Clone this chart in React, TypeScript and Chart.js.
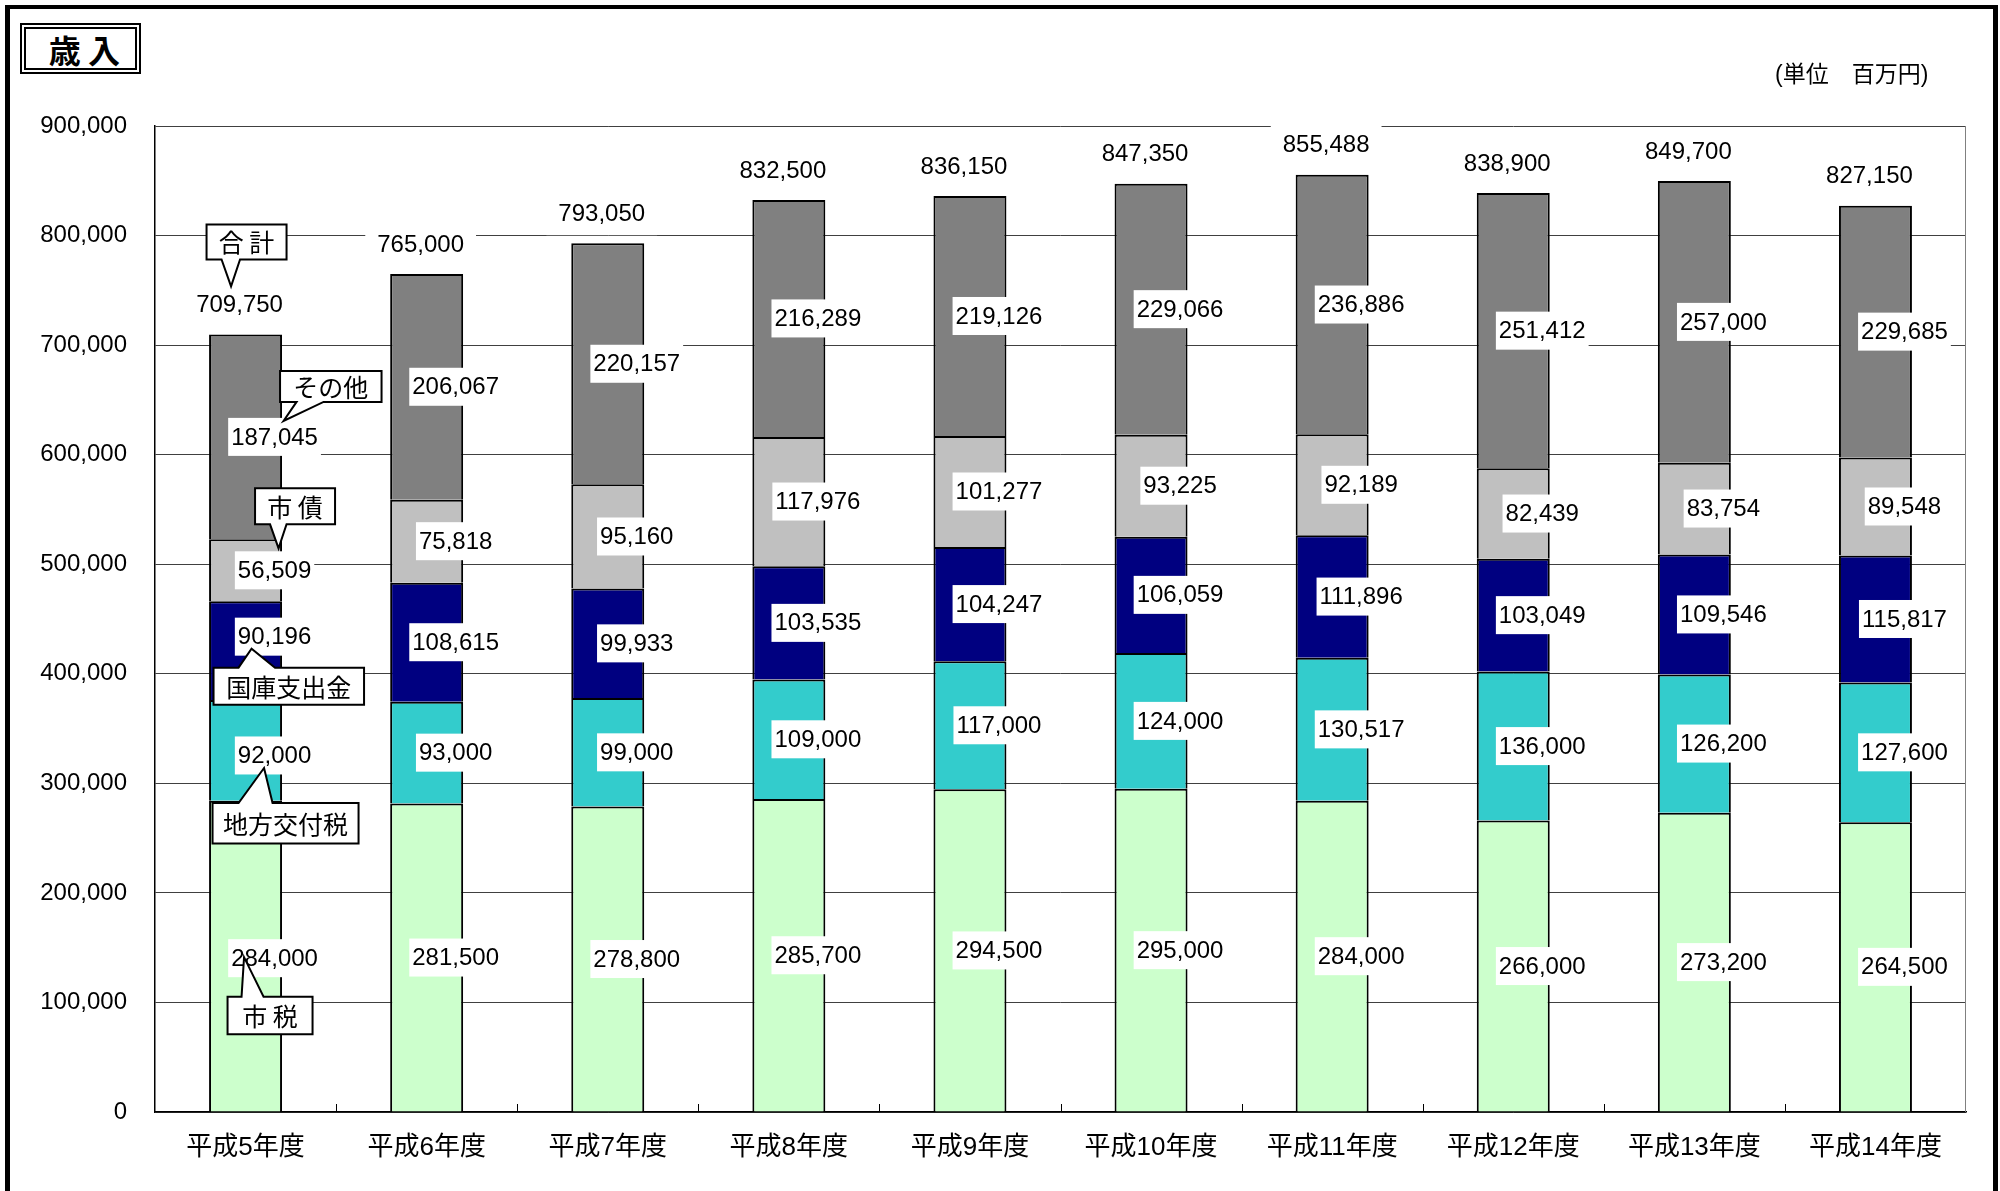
import React, { useEffect, useRef } from 'react';
import { Chart, registerables } from 'chart.js';

Chart.register(...registerables);

const categories = ['平成5年度', '平成6年度', '平成7年度', '平成8年度', '平成9年度', '平成10年度', '平成11年度', '平成12年度', '平成13年度', '平成14年度'];
const seriesNames = ['市税', '地方交付税', '国庫支出金', '市債', 'その他'];
const shizei = [284000, 281500, 278800, 285700, 294500, 295000, 284000, 266000, 273200, 264500];
const chihoKofuzei = [92000, 93000, 99000, 109000, 117000, 124000, 130517, 136000, 126200, 127600];
const kokkoShishutsukin = [90196, 108615, 99933, 103535, 104247, 106059, 111896, 103049, 109546, 115817];
const shisai = [56509, 75818, 95160, 117976, 101277, 93225, 92189, 82439, 83754, 89548];
const sonota = [187045, 206067, 220157, 216289, 219126, 229066, 236886, 251412, 257000, 229685];
const totals = [709750, 765000, 793050, 832500, 836150, 847350, 855488, 838900, 849700, 827150];
const yMin = 0;
const yMax = 900000;
const yStep = 100000;

const seriesValues = [shizei, chihoKofuzei, kokkoShishutsukin, shisai, sonota];
const seriesColors = ['#CCFFCC', '#33CCCC', '#000080', '#C0C0C0', '#808080'];

const FONT_NUM = "'Liberation Sans', Arial, sans-serif";
const FONT_JP = "'Noto Sans CJK JP', sans-serif";
const FONT_MIX = "'Liberation Sans', 'Noto Sans CJK JP', sans-serif";

const fmt = (v: number) => v.toLocaleString('en-US');

// label nudges (px) for the first year's labels, which carry callouts
const labelNudge: Record<string, number> = { '0-0': 2, '1-0': 5, '2-0': -14 };

type Callout = {
  text: string;
  target: number | 'total';
  box: [number, number, number, number];
  side: 'top' | 'bottom';
  base: [number, number];
  tip: [number, number];
};

const callouts: Callout[] = [
  { text: '合 計', target: 'total', box: [-39, 41, -110, -75], side: 'bottom', base: [-24, -5.5], tip: [-14.5, -48] },
  { text: 'その他', target: 4, box: [34.5, 136, -66, -35], side: 'bottom', base: [51, 78], tip: [38, -16] },
  { text: '市 債', target: 3, box: [9.5, 89.5, -82, -46], side: 'bottom', base: [24.5, 41], tip: [33, -22] },
  { text: '国庫支出金', target: 2, box: [-32, 118.5, 31, 68], side: 'top', base: [-7, 29.5], tip: [6, 12] },
  { text: '地方交付税', target: 1, box: [-33, 113, 47.5, 88], side: 'top', base: [-7, 27], tip: [18.5, 12.5] },
  { text: '市 税', target: 0, box: [-18, 67, 38.5, 76], side: 'top', base: [-4, 18], tip: [-1.5, -1] },
];

const labelPlugin = {
  id: 'customLabels',
  afterDatasetsDraw(chart: any) {
    const ctx: CanvasRenderingContext2D = chart.ctx;
    const area = chart.chartArea;
    const xs = chart.scales.x;
    ctx.save();
    // right border of plot
    ctx.strokeStyle = '#808080';
    ctx.lineWidth = 1;
    ctx.beginPath();
    ctx.moveTo(Math.round(area.right) - 0.5, area.top);
    ctx.lineTo(Math.round(area.right) - 0.5, area.bottom);
    ctx.stroke();
    // inside tick marks between categories
    ctx.strokeStyle = '#000';
    const n = categories.length;
    for (let i = 1; i < n; i++) {
      const x = Math.round((xs.getPixelForTick(i - 1) + xs.getPixelForTick(i)) / 2) + 0.5;
      ctx.beginPath();
      ctx.moveTo(x, area.bottom);
      ctx.lineTo(x, area.bottom - 8);
      ctx.stroke();
    }

    // segment labels
    ctx.font = `24px ${FONT_NUM}`;
    ctx.textAlign = 'center';
    ctx.textBaseline = 'middle';
    const labelCenters: Record<string, { x: number; y: number }> = {};
    chart.data.datasets.forEach((ds: any, di: number) => {
      const meta = chart.getDatasetMeta(di);
      meta.data.forEach((el: any, j: number) => {
        const p = el.getProps(['x', 'y', 'base'], true);
        const text = fmt(ds.data[j]);
        const x = p.x + 29;
        const y = (p.y + p.base) / 2 + (labelNudge[`${di}-${j}`] || 0);
        labelCenters[`${di}-${j}`] = { x: p.x, y };
        const w = ctx.measureText(text).width;
        ctx.fillStyle = '#fff';
        ctx.fillRect(x - w / 2 - 3, y - 19, w + 6, 38);
        ctx.fillStyle = '#000';
        ctx.fillText(text, x, y + 1);
      });
    });

    // totals
    const topMeta = chart.getDatasetMeta(chart.data.datasets.length - 1);
    const barTops: number[] = [];
    topMeta.data.forEach((el: any, j: number) => {
      const p = el.getProps(['x', 'y'], true);
      barTops.push(p.y);
      const text = fmt(totals[j]);
      const x = p.x - 6;
      const y = chart.scales.y.getPixelForValue(totals[j]) - 30;
      const w = ctx.measureText(text).width;
      ctx.fillStyle = '#fff';
      ctx.fillRect(x - w / 2 - 12, y - 22, w + 24, 44);
      ctx.fillStyle = '#000';
      ctx.fillText(text, x, y + 1);
    });

    // callouts on the first year
    const firstEl = chart.getDatasetMeta(0).data[0].getProps(['x'], true);
    const cx = firstEl.x;
    ctx.lineWidth = 2;
    ctx.lineJoin = 'miter';
    callouts.forEach((c) => {
      const cy = c.target === 'total' ? barTops[0] : labelCenters[`${c.target}-0`].y;
      const [x0, x1, y0, y1] = [cx + c.box[0], cx + c.box[1], cy + c.box[2], cy + c.box[3]];
      const [b0, b1] = [cx + c.base[0], cx + c.base[1]];
      const [tx, ty] = [cx + c.tip[0], cy + c.tip[1]];
      ctx.beginPath();
      if (c.side === 'bottom') {
        ctx.moveTo(x0, y0);
        ctx.lineTo(x1, y0);
        ctx.lineTo(x1, y1);
        ctx.lineTo(b1, y1);
        ctx.lineTo(tx, ty);
        ctx.lineTo(b0, y1);
        ctx.lineTo(x0, y1);
      } else {
        ctx.moveTo(x0, y0);
        ctx.lineTo(b0, y0);
        ctx.lineTo(tx, ty);
        ctx.lineTo(b1, y0);
        ctx.lineTo(x1, y0);
        ctx.lineTo(x1, y1);
        ctx.lineTo(x0, y1);
      }
      ctx.closePath();
      ctx.fillStyle = '#fff';
      ctx.fill();
      ctx.strokeStyle = '#000';
      ctx.stroke();
      ctx.fillStyle = '#000';
      ctx.font = `25px ${FONT_JP}`;
      ctx.textAlign = 'center';
      ctx.textBaseline = 'middle';
      ctx.fillText(c.text, (x0 + x1) / 2, (y0 + y1) / 2 + 1);
    });
    ctx.restore();
  },
};

export default function App() {
  const ref = useRef<HTMLCanvasElement>(null);

  useEffect(() => {
    if (!ref.current) return;
    const chart = new Chart(ref.current, {
      type: 'bar',
      data: {
        labels: categories,
        datasets: seriesNames.map((name, i) => ({
          label: name,
          data: seriesValues[i],
          backgroundColor: seriesColors[i],
          borderColor: '#000',
          borderWidth: 2,
          categoryPercentage: 1,
          barPercentage: 0.403,
        })),
      },
      options: {
        animation: false,
        responsive: false,
        devicePixelRatio: 1,
        layout: { padding: { left: 0, top: 126, right: 34, bottom: 0 } },
        plugins: {
          legend: { display: false },
          title: { display: false },
          tooltip: { enabled: false },
        },
        scales: {
          x: {
            stacked: true,
            grid: { display: false, drawTicks: false },
            border: { display: true, color: '#000', width: 1.5 },
            ticks: {
              color: '#000',
              font: { size: 26, family: FONT_MIX },
              padding: 20,
              maxRotation: 0,
              autoSkip: false,
            },
            afterFit: (s: any) => {
              s.height = 79;
            },
          },
          y: {
            stacked: true,
            min: yMin,
            max: yMax,
            grid: { color: '#404040', lineWidth: 1, drawTicks: false },
            border: { display: true, color: '#000', width: 1.5 },
            ticks: {
              stepSize: yStep,
              color: '#000',
              font: { size: 24, family: FONT_NUM },
              padding: 28,
              callback: (v: any) => fmt(Number(v)),
            },
            afterFit: (s: any) => {
              s.width = 155;
            },
          },
        },
      },
      plugins: [labelPlugin],
    });
    return () => chart.destroy();
  }, []);

  return (
    <div style={{ position: 'absolute', left: 0, top: 0, width: 2000, height: 1191, background: '#fff', overflow: 'hidden' }}>
      <canvas ref={ref} width={2000} height={1191} style={{ position: 'absolute', left: 0, top: 0, width: 2000, height: 1191 }} />
      <div
        style={{
          position: 'absolute', left: 5, top: 5, width: 1993, height: 1220,
          borderLeft: '5px solid #000', borderTop: '4px solid #000', borderRight: '5px solid #000',
          boxSizing: 'border-box', pointerEvents: 'none',
        }}
      />
      <div
        style={{
          position: 'absolute', left: 20, top: 23, width: 121, height: 51,
          border: '6px double #000', boxSizing: 'border-box',
          display: 'flex', alignItems: 'center', justifyContent: 'center', paddingLeft: 8,
          fontFamily: FONT_JP, fontWeight: 700, fontSize: 32, lineHeight: '32px', color: '#000', background: '#fff',
        }}
      >
        歳 入
      </div>
      <div
        style={{
          position: 'absolute', left: 1775, top: 61, fontFamily: FONT_MIX, fontSize: 23, lineHeight: '26px',
          color: '#000', whiteSpace: 'nowrap',
        }}
      >
        (単位　百万円)
      </div>
    </div>
  );
}
